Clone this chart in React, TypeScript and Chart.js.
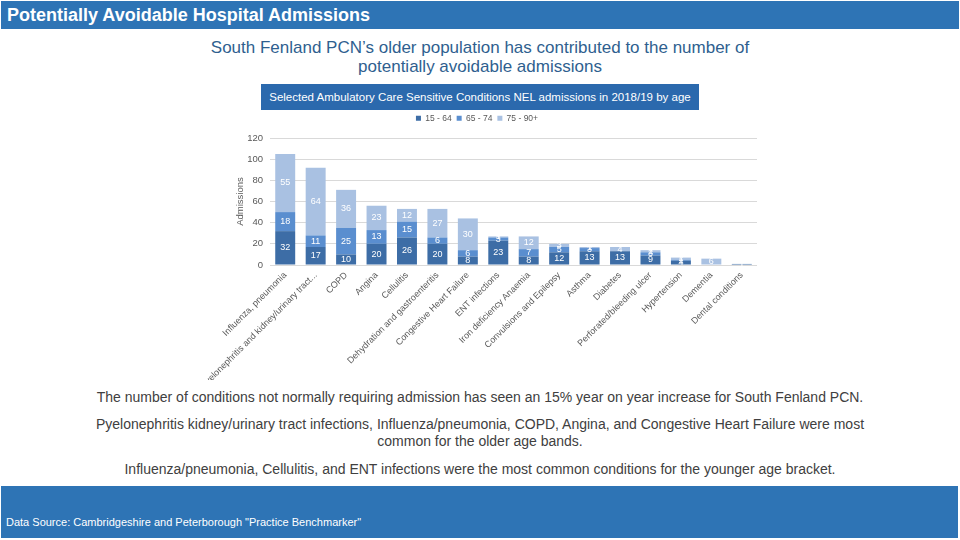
import React, { useEffect, useRef } from "react";
import { Chart, registerables } from "chart.js";

Chart.register(...registerables);

// Conditions (x axis categories)
const conditions = [
  "Influenza, pneumonia",
  "Pyelonephritis and kidney/urinary tract...",
  "COPD",
  "Angina",
  "Cellulitis",
  "Dehydration and gastroenteritis",
  "Congestive Heart Failure",
  "ENT infections",
  "Iron deficiency Anaemia",
  "Convulsions and Epilepsy",
  "Asthma",
  "Diabetes",
  "Perforated/bleeding ulcer",
  "Hypertension",
  "Dementia",
  "Dental conditions",
];

// NEL admissions by age band
const age15to64 = [32, 17, 10, 20, 26, 20, 8, 23, 8, 12, 13, 13, 9, 4, 0, 1];
const age65to74 = [18, 11, 25, 13, 15, 6, 6, 3, 7, 5, 3, 0, 3, 1, 0, 0];
const age75to90 = [55, 64, 36, 23, 12, 27, 30, 1, 12, 3, 1, 4, 2, 2, 6, 0];

const seriesNames = ["15 - 64", "65 - 74", "75 - 90+"];
const yTicks = [0, 20, 40, 60, 80, 100, 120];

const FONT = '"Liberation Sans", Arial, sans-serif';
const GREY = "#595959";

// Writes each segment's value in the middle of its bar piece
const segmentLabels = {
  id: "segmentLabels",
  afterDatasetsDraw(chart: any) {
    const ctx = chart.ctx;
    ctx.save();
    ctx.font = `9px ${FONT}`;
    ctx.fillStyle = "#ffffff";
    ctx.textAlign = "center";
    ctx.textBaseline = "middle";
    chart.data.datasets.forEach((ds: any, di: number) => {
      const meta = chart.getDatasetMeta(di);
      meta.data.forEach((el: any, i: number) => {
        const v = ds.data[i];
        if (!v) return;
        const { x, y, base } = el.getProps(["x", "y", "base"], true);
        ctx.fillText(String(v), x, (y + base) / 2);
      });
    });
    ctx.restore();
  },
};

function AdmissionsChart() {
  const ref = useRef<HTMLCanvasElement | null>(null);

  useEffect(() => {
    if (!ref.current) return;
    const chart = new Chart(ref.current, {
      type: "bar",
      data: {
        labels: conditions,
        datasets: [
          { label: seriesNames[0], data: age15to64, backgroundColor: "#3D6DA6" },
          { label: seriesNames[1], data: age65to74, backgroundColor: "#5A8ECF" },
          { label: seriesNames[2], data: age75to90, backgroundColor: "#A9C1E2" },
        ],
      },
      options: {
        animation: false,
        responsive: false,
        devicePixelRatio: 1,
        layout: { padding: { left: 0, right: 30, top: 0, bottom: 0 } },
        datasets: {
          bar: { categoryPercentage: 0.8, barPercentage: 0.82 },
        },
        plugins: {
          legend: {
            position: "top",
            labels: {
              boxWidth: 5,
              boxHeight: 5,
              padding: 5,
              color: GREY,
              font: { family: FONT, size: 8.5 },
            },
          },
          tooltip: { enabled: false },
        },
        scales: {
          x: {
            stacked: true,
            grid: { display: false, drawTicks: false },
            border: { display: false },
            ticks: {
              autoSkip: false,
              minRotation: 45,
              maxRotation: 45,
              padding: 5,
              color: GREY,
              font: { family: FONT, size: 9 },
            },
            afterFit: (s: any) => {
              s.height = 115;
            },
          },
          xTop: {
            type: "category",
            position: "top",
            grid: { display: false, drawTicks: false },
            border: { display: false },
            ticks: { display: false },
            afterFit: (s: any) => {
              s.height = 5.5;
            },
          },
          y: {
            stacked: true,
            min: 0,
            max: 120,
            afterBuildTicks: (s: any) => {
              s.ticks = yTicks.map((v) => ({ value: v }));
            },
            grid: { color: "#D9D9D9", drawTicks: false },
            border: { display: false },
            ticks: {
              padding: 7,
              color: GREY,
              font: { family: FONT, size: 9.5 },
            },
            title: {
              display: true,
              text: "Admissions",
              color: GREY,
              font: { family: FONT, size: 9.5 },
              padding: { top: 37.3, bottom: 0 },
            },
            afterFit: (s: any) => {
              s.width = 73;
            },
          },
        },
      },
      plugins: [segmentLabels],
    } as any);
    return () => chart.destroy();
  }, []);

  return (
    <canvas
      ref={ref}
      width={590}
      height={271}
      style={{ position: "absolute", left: 197, top: 109, width: 590, height: 271 }}
    />
  );
}

export default function App() {
  const bodyText: React.CSSProperties = {
    position: "absolute",
    left: 40,
    width: 880,
    textAlign: "center",
    fontFamily: FONT,
    fontSize: 14,
    lineHeight: "17px",
    color: "#404040",
  };
  return (
    <div
      style={{
        position: "fixed",
        left: 0,
        top: 0,
        width: 960,
        height: 540,
        background: "#ffffff",
        overflow: "hidden",
        fontFamily: FONT,
      }}
    >
      <div
        style={{
          position: "absolute",
          left: 1,
          top: 1,
          width: 958,
          height: 28,
          background: "#2E74B5",
          color: "#ffffff",
          fontWeight: "bold",
          fontSize: 18,
          lineHeight: "28px",
          paddingLeft: 6,
          boxSizing: "border-box",
        }}
      >
        Potentially Avoidable Hospital Admissions
      </div>

      <div
        style={{
          position: "absolute",
          left: 60,
          top: 38,
          width: 840,
          textAlign: "center",
          fontSize: 17,
          lineHeight: "19px",
          color: "#2F5F8F",
        }}
      >
        South Fenland PCN’s older population has contributed to the number of
        <br />
        potentially avoidable admissions
      </div>

      <div
        style={{
          position: "absolute",
          left: 261,
          top: 84,
          width: 438,
          height: 26,
          background: "#2B69AD",
          color: "#ffffff",
          fontSize: 11.5,
          lineHeight: "26px",
          textAlign: "center",
          whiteSpace: "nowrap",
        }}
      >
        Selected Ambulatory Care Sensitive Conditions NEL admissions in 2018/19 by age
      </div>

      <AdmissionsChart />

      <div style={{ ...bodyText, top: 389 }}>
        The number of conditions not normally requiring admission has seen an 15% year on year
        increase for South Fenland PCN.
      </div>
      <div style={{ ...bodyText, top: 416 }}>
        Pyelonephritis kidney/urinary tract infections, Influenza/pneumonia, COPD, Angina, and
        Congestive Heart Failure were most
        <br />
        common for the older age bands.
      </div>
      <div style={{ ...bodyText, top: 461 }}>
        Influenza/pneumonia, Cellulitis, and ENT infections were the most common conditions for
        the younger age bracket.
      </div>

      <div
        style={{
          position: "absolute",
          left: 1,
          top: 486,
          width: 957,
          height: 52,
          background: "#2E74B5",
        }}
      >
        <div
          style={{
            position: "absolute",
            left: 5,
            top: 29,
            color: "#ffffff",
            fontSize: 11,
            lineHeight: "14px",
            whiteSpace: "nowrap",
          }}
        >
          Data Source: Cambridgeshire and Peterborough "Practice Benchmarker"
        </div>
      </div>
    </div>
  );
}
